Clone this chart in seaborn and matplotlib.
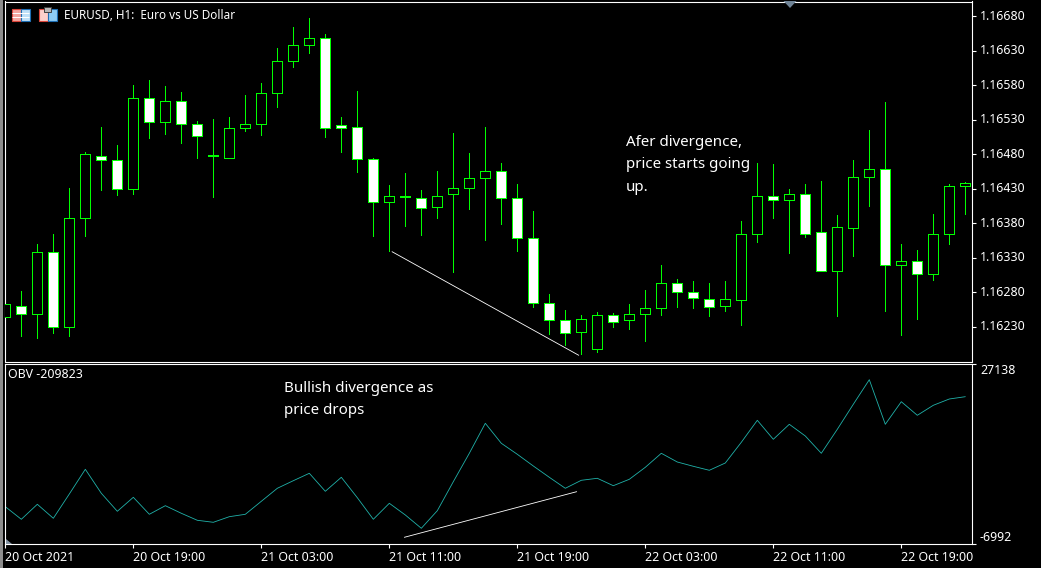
import numpy as np
import pandas as pd
import matplotlib
matplotlib.use("Agg")
import matplotlib.pyplot as plt
from matplotlib.patches import Polygon, Rectangle
import seaborn as sns

# EURUSD H1 candles
opens = [1.16244, 1.16260, 1.16249, 1.16338, 1.16230, 1.16387, 1.16478, 1.16471, 1.16430, 1.16562, 1.16527, 1.16557, 1.16523, 1.16479, 1.16475, 1.16518,
         1.16523, 1.16568, 1.16615, 1.16638, 1.16649, 1.16522, 1.16520, 1.16473, 1.16410, 1.16419, 1.16416, 1.16403, 1.16422, 1.16431, 1.16445, 1.16455,
         1.16416, 1.16358, 1.16264, 1.16240, 1.16223, 1.16197, 1.16247, 1.16240, 1.16248, 1.16257, 1.16293, 1.16280, 1.16270, 1.16260, 1.16268, 1.16364,
         1.16419, 1.16413, 1.16423, 1.16367, 1.16311, 1.16373, 1.16447, 1.16458, 1.16319, 1.16325, 1.16306, 1.16364, 1.16434]
highs = [1.16263, 1.16282, 1.16350, 1.16364, 1.16431, 1.16483, 1.16519, 1.16493, 1.16580, 1.16587, 1.16579, 1.16570, 1.16528, 1.16531, 1.16534, 1.16566,
         1.16583, 1.16634, 1.16664, 1.16677, 1.16654, 1.16534, 1.16572, 1.16474, 1.16435, 1.16453, 1.16428, 1.16456, 1.16511, 1.16482, 1.16519, 1.16467,
         1.16437, 1.16398, 1.16278, 1.16254, 1.16247, 1.16251, 1.16250, 1.16263, 1.16283, 1.16319, 1.16299, 1.16296, 1.16293, 1.16296, 1.16383, 1.16467,
         1.16466, 1.16430, 1.16437, 1.16441, 1.16392, 1.16472, 1.16515, 1.16556, 1.16350, 1.16341, 1.16393, 1.16437, 1.16440]
lows = [1.16244, 1.16217, 1.16213, 1.16221, 1.16217, 1.16362, 1.16428, 1.16421, 1.16422, 1.16504, 1.16509, 1.16496, 1.16475, 1.16418, 1.16475, 1.16514,
        1.16508, 1.16548, 1.16606, 1.16627, 1.16505, 1.16483, 1.16454, 1.16361, 1.16340, 1.16376, 1.16363, 1.16388, 1.16309, 1.16401, 1.16356, 1.16379,
        1.16340, 1.16259, 1.16219, 1.16204, 1.16190, 1.16193, 1.16230, 1.16227, 1.16209, 1.16247, 1.16259, 1.16257, 1.16245, 1.16253, 1.16232, 1.16353,
        1.16388, 1.16337, 1.16360, 1.16311, 1.16245, 1.16332, 1.16405, 1.16253, 1.16218, 1.16241, 1.16298, 1.16350, 1.16393]
closes = [1.16263, 1.16249, 1.16338, 1.16229, 1.16387, 1.16480, 1.16471, 1.16430, 1.16562, 1.16526, 1.16557, 1.16523, 1.16506, 1.16477, 1.16518, 1.16523,
          1.16568, 1.16615, 1.16638, 1.16649, 1.16518, 1.16518, 1.16473, 1.16410, 1.16419, 1.16418, 1.16402, 1.16420, 1.16431, 1.16445, 1.16455, 1.16416,
          1.16358, 1.16264, 1.16240, 1.16221, 1.16241, 1.16247, 1.16237, 1.16248, 1.16257, 1.16293, 1.16281, 1.16271, 1.16259, 1.16270, 1.16364, 1.16419,
          1.16413, 1.16423, 1.16365, 1.16311, 1.16374, 1.16447, 1.16458, 1.16320, 1.16325, 1.16306, 1.16364, 1.16434, 1.16438]

obv = [82, -2307, 537, -2117, 2490, 7173, 2623, -790, 1864, -1359, 272, -1169, -2496, -2876, -1814, -1359,
       1106, 3571, 5012, 6415, 3002, 5656, 1788, -2307, 727, -1492, -4013, -676, 4822, 10207, 15895, 12103,
       10017, 7799, 5656, 3571, 5088, 5467, 4064, 5277, 7552, 10207, 8557, 7742, 6984, 8368, 12292, 16464,
       12861, 15705, 13487, 10207, 14757, 19497, 24161, 15705, 19990, 17412, 19308, 20502, 20938]

price_ticks = [1.16230, 1.16280, 1.16330, 1.16380, 1.16430, 1.16480, 1.16530, 1.16580, 1.16630, 1.16680]
price_labels = ["1.16230", "1.16280", "1.16330", "1.16380", "1.16430", "1.16480", "1.16530", "1.16580", "1.16630", "1.16680"]
obv_ticks = [-6992, 27138]
obv_labels = ["-6992", "27138"]
time_ticks = [0, 8, 16, 24, 32, 40, 48, 56]
time_labels = ["20 Oct 2021", "20 Oct 19:00", "21 Oct 03:00", "21 Oct 11:00", "21 Oct 19:00", "22 Oct 03:00", "22 Oct 11:00", "22 Oct 19:00"]

# hand drawn trend lines
price_line_x = [24.17, 35.84]
price_line_y = [1.163387, 1.161886]
obv_line_x = [24.94, 35.71]
obv_line_y = [-5720, 2926]

W, H = 1041, 568
LIME = "#00ff00"
TEAL = "#20b2aa"
THIN = 0.7

sns.set_theme(style="dark")
plt.rcParams["font.family"] = ["Noto Sans", "DejaVu Sans"]

df = pd.DataFrame({"open": opens, "high": highs, "low": lows, "close": closes, "obv": obv})
df["idx"] = df.index
df["down"] = df["close"] < df["open"]


def px_axes(fig, left, top, right, bottom):
    return fig.add_axes([left / W, 1 - bottom / H, (right - left) / W, (bottom - top) / H])


def style_axes(ax):
    ax.set_facecolor("black")
    ax.grid(False)
    for side in ["left", "right", "top", "bottom"]:
        ax.spines[side].set_visible(True)
        ax.spines[side].set_color("white")
        ax.spines[side].set_linewidth(0.8)
    ax.yaxis.tick_right()
    ax.tick_params(axis="y", which="major", right=True, left=False, length=3.2, width=0.8, color="white",
                   labelcolor="white", labelsize=8.9, pad=2.2)


fig = plt.figure(figsize=(W / 100, H / 100), dpi=100, facecolor="black")
ax = px_axes(fig, 5.33, 1.5, 972.5, 361.5)
ax2 = px_axes(fig, 5.33, 364, 972.5, 544)
style_axes(ax)
style_axes(ax2)

# candles
ax.vlines(df["idx"], df["low"], df["high"], color=LIME, linewidth=THIN, antialiased=False, zorder=2)
body_bottom = df[["open", "close"]].min(axis=1)
body_height = (df["close"] - df["open"]).abs()
fills = ["white" if d else "black" for d in df["down"]]
ax.bar(df["idx"], body_height, bottom=body_bottom, width=0.625, color=fills, edgecolor=LIME,
       linewidth=THIN, antialiased=False, zorder=3)
ax.plot(price_line_x, price_line_y, color="white", linewidth=0.6, zorder=4)
ax.set_xlim(0, 60.45)
ax.set_ylim(1.161796, 1.167012)
ax.set_yticks(price_ticks)
ax.set_yticklabels(price_labels, va="center")
ax.set_xticks([])
ax.set_xlabel("")

# OBV panel
sns.lineplot(data=df, x="idx", y="obv", ax=ax2, color=TEAL, linewidth=0.6, errorbar=None)
ax2.plot(obv_line_x, obv_line_y, color="white", linewidth=0.6, zorder=4)
ax2.set_ylim(-6992, 27138)
ax2.set_yticks(obv_ticks)
ax2.set_yticklabels(obv_labels)
ax2.get_yticklabels()[0].set_va("bottom")
ax2.get_yticklabels()[1].set_va("top")
ax2.set_xlabel("")
ax2.set_ylabel("")
ax2.set_xticks(time_ticks)
ax2.set_xticklabels(time_labels, ha="left")
ax2.tick_params(axis="x", which="major", bottom=True, length=3.2, width=0.8, color="white",
                labelcolor="white", labelsize=8.9, pad=1.5)
ax2.set_xlim(0, 60.45)


def put_text(px, py, s, size):
    fig.text(px / W, 1 - py / H, s, color="white", fontsize=size, va="center", ha="left")


put_text(64, 15.5, "EURUSD, H1:  Euro vs US Dollar", 8.45)
put_text(8, 374.5, "OBV -209823", 8.9)
put_text(626, 142.5, "Afer divergence,", 10.9)
put_text(626, 165, "price starts going", 10.9)
put_text(626, 187.5, "up.", 10.9)
put_text(284, 388.5, "Bullish divergence as", 10.9)
put_text(284, 411, "price drops", 10.9)

# overlay bits: window edge, toolbar icons and little scroll markers
overlay = fig.add_axes([0, 0, 1, 1], facecolor="none")
overlay.set_xlim(0, W)
overlay.set_ylim(H, 0)
overlay.axis("off")
overlay.add_patch(Rectangle((0, 0), 2.5, H, color="#8c8c8c", lw=0))
overlay.add_patch(Rectangle((11.5, 8.5), 9.5, 12, color="#f4a6a0", ec="#d9453a", lw=0.8))
overlay.add_patch(Rectangle((21, 8.5), 8.5, 12, color="#bfe0f7", ec="#1f6fb5", lw=0.8))
overlay.hlines([12.5, 16.5], 12, 29, color="#ffffff", lw=0.7)
overlay.add_patch(Rectangle((38.5, 8.5), 9, 12, color="#fbd0cb", ec="#d9453a", lw=0.8))
overlay.add_patch(Rectangle((48, 8.5), 8.5, 12, color="#8fcdf5", ec="#1f6fb5", lw=0.8))
overlay.add_patch(Rectangle((44, 7), 7, 5, color="#b8b8b8", ec="#404040", lw=0.7))
overlay.add_patch(Polygon([[783.5, 1], [796.5, 1], [790, 8]], color="#6f8396", lw=0))
overlay.add_patch(Polygon([[6, 538.5], [6, 544], [12, 544]], color="#8494a5", lw=0))

fig.savefig("out.png", dpi=100, facecolor="black")
